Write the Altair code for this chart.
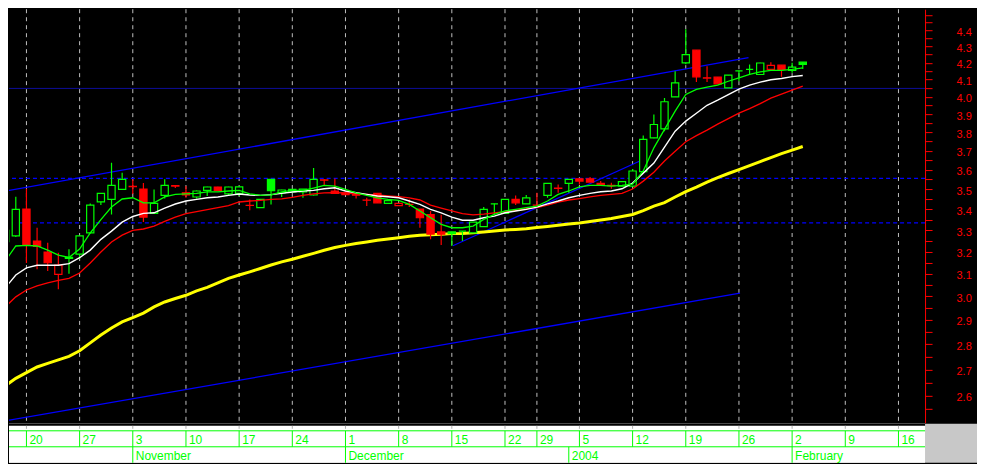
import altair as alt
import pandas as pd

# ---------------- data (trading-day index 0 = Mon 20 Oct 2003) ----------------
days = list(range(-2, 74))

opens = [3.246, 3.273, 3.402, 3.249, 3.198, 3.097, 3.169, 3.188, 3.288, 3.438,
         3.450, 3.500, 3.515, 3.502, 3.381, 3.470, 3.519, 3.483, 3.462, 3.495,
         3.512, 3.478, 3.480, 3.421, 3.409, 3.551, 3.483, 3.487, 3.487, 3.472,
         3.548, 3.492, 3.483, 3.480, 3.447, 3.480, 3.430, 3.419, 3.426, 3.402,
         3.375, 3.292, 3.292, 3.296, 3.288, 3.317, 3.428, 3.381, 3.450, 3.428,
         3.422, 3.470, 3.506, 3.530, 3.554, 3.554, 3.530, 3.520, 3.517, 3.517,
         3.591, 3.770, 3.819, 3.999, 4.200, 4.277, 4.110, 4.114, 4.051, 4.151,
         4.160, 4.130, 4.160, 4.186, 4.154, 4.204]
highs = [3.310, 3.463, 3.503, 3.312, 3.241, 3.195, 3.211, 3.275, 3.430, 3.482,
         3.637, 3.585, 3.552, 3.532, 3.500, 3.551, 3.522, 3.517, 3.495, 3.513,
         3.514, 3.513, 3.515, 3.450, 3.451, 3.552, 3.498, 3.501, 3.502, 3.610,
         3.551, 3.556, 3.484, 3.481, 3.458, 3.481, 3.445, 3.431, 3.450, 3.403,
         3.393, 3.374, 3.293, 3.297, 3.340, 3.412, 3.429, 3.451, 3.470, 3.472,
         3.483, 3.531, 3.525, 3.552, 3.555, 3.563, 3.542, 3.534, 3.539, 3.604,
         3.783, 3.899, 3.993, 4.150, 4.408, 4.278, 4.180, 4.115, 4.126, 4.152,
         4.190, 4.200, 4.204, 4.187, 4.200, 4.205]
lows = [3.190, 3.268, 3.148, 3.120, 3.112, 3.031, 3.100, 3.165, 3.286, 3.422,
        3.376, 3.498, 3.477, 3.339, 3.379, 3.455, 3.507, 3.458, 3.455, 3.467,
        3.492, 3.470, 3.467, 3.396, 3.407, 3.425, 3.462, 3.485, 3.458, 3.470,
        3.517, 3.479, 3.473, 3.455, 3.417, 3.432, 3.429, 3.418, 3.412, 3.312,
        3.257, 3.231, 3.226, 3.249, 3.287, 3.316, 3.376, 3.380, 3.422, 3.427,
        3.409, 3.458, 3.483, 3.483, 3.525, 3.536, 3.517, 3.503, 3.516, 3.515,
        3.590, 3.768, 3.806, 3.998, 4.192, 4.086, 4.086, 4.074, 4.050, 4.090,
        4.130, 4.129, 4.159, 4.116, 4.140, 4.163]
closes = [3.300, 3.401, 3.231, 3.224, 3.149, 3.138, 3.174, 3.273, 3.422, 3.480,
          3.520, 3.551, 3.514, 3.363, 3.430, 3.520, 3.517, 3.472, 3.492, 3.512,
          3.495, 3.512, 3.513, 3.420, 3.450, 3.494, 3.497, 3.500, 3.501, 3.551,
          3.547, 3.480, 3.474, 3.471, 3.446, 3.433, 3.444, 3.430, 3.425, 3.360,
          3.282, 3.281, 3.284, 3.296, 3.339, 3.401, 3.428, 3.450, 3.433, 3.458,
          3.421, 3.530, 3.505, 3.551, 3.542, 3.537, 3.522, 3.519, 3.539, 3.594,
          3.761, 3.843, 3.971, 4.080, 4.250, 4.116, 4.109, 4.075, 4.126, 4.151,
          4.160, 4.199, 4.184, 4.160, 4.174, 4.190]
direction = ["up", "up", "down", "down", "down", "down", "up", "up", "up", "up",
             "up", "up", "down", "down", "up", "up", "down", "down", "up", "up",
             "down", "up", "up", "down", "up", "up", "up", "up", "up", "up",
             "down", "down", "down", "down", "down", "down", "up", "down", "down", "down",
             "down", "down", "up", "up", "up", "up", "up", "up", "down", "up",
             "down", "up", "down", "up", "down", "down", "down", "down", "up", "up",
             "up", "up", "up", "up", "up", "down", "down", "down", "up", "up",
             "up", "up", "down", "down", "up", "up"]

ma_fast = [3.157, 3.226, 3.229, 3.226, 3.207, 3.184, 3.173, 3.212, 3.287, 3.351,
           3.412, 3.452, 3.458, 3.433, 3.433, 3.462, 3.475, 3.478, 3.480, 3.488,
           3.488, 3.492, 3.495, 3.478, 3.470, 3.473, 3.487, 3.495, 3.495, 3.507,
           3.520, 3.517, 3.500, 3.483, 3.470, 3.458, 3.450, 3.445, 3.425, 3.393,
           3.360, 3.328, 3.312, 3.312, 3.320, 3.352, 3.376, 3.393, 3.401, 3.409,
           3.417, 3.442, 3.475, 3.492, 3.513, 3.520, 3.520, 3.517, 3.520, 3.527,
           3.594, 3.716, 3.816, 3.918, 4.013, 4.042, 4.055, 4.067, 4.090, 4.110,
           4.130, 4.145, 4.154, 4.154, 4.160, 4.170]
ma_mid = [3.037, 3.094, 3.126, 3.138, 3.138, 3.138, 3.145, 3.172, 3.207, 3.257,
          3.296, 3.339, 3.366, 3.381, 3.384, 3.407, 3.427, 3.442, 3.450, 3.458,
          3.462, 3.470, 3.477, 3.472, 3.470, 3.474, 3.480, 3.487, 3.492, 3.495,
          3.503, 3.508, 3.492, 3.483, 3.475, 3.467, 3.463, 3.458, 3.442, 3.425,
          3.401, 3.384, 3.363, 3.348, 3.348, 3.360, 3.368, 3.384, 3.393, 3.401,
          3.412, 3.428, 3.442, 3.458, 3.470, 3.480, 3.488, 3.492, 3.503, 3.532,
          3.583, 3.635, 3.720, 3.806, 3.862, 3.906, 3.951, 3.980, 4.012, 4.044,
          4.067, 4.085, 4.099, 4.106, 4.117, 4.124]
ma_slow = [2.955, 2.998, 3.028, 3.046, 3.059, 3.070, 3.079, 3.103, 3.148, 3.198,
           3.245, 3.277, 3.299, 3.306, 3.320, 3.342, 3.363, 3.380, 3.390, 3.400,
           3.409, 3.419, 3.437, 3.442, 3.445, 3.450, 3.453, 3.460, 3.470, 3.478,
           3.483, 3.484, 3.482, 3.478, 3.475, 3.472, 3.468, 3.464, 3.458, 3.447,
           3.422, 3.407, 3.393, 3.380, 3.374, 3.378, 3.384, 3.390, 3.396, 3.404,
           3.409, 3.422, 3.437, 3.447, 3.454, 3.462, 3.470, 3.475, 3.480, 3.502,
           3.542, 3.588, 3.646, 3.698, 3.749, 3.782, 3.812, 3.845, 3.876, 3.906,
           3.932, 3.960, 3.992, 4.015, 4.038, 4.061]
ma_long = [2.637, 2.666, 2.688, 2.710, 2.724, 2.738, 2.752, 2.774, 2.806, 2.838,
           2.867, 2.892, 2.910, 2.929, 2.955, 2.976, 2.991, 3.005, 3.024, 3.039,
           3.059, 3.079, 3.094, 3.108, 3.123, 3.139, 3.153, 3.165, 3.179, 3.192,
           3.206, 3.219, 3.229, 3.238, 3.245, 3.253, 3.259, 3.265, 3.272, 3.276,
           3.279, 3.281, 3.284, 3.285, 3.288, 3.292, 3.296, 3.301, 3.304, 3.307,
           3.313, 3.318, 3.324, 3.330, 3.335, 3.342, 3.349, 3.356, 3.366, 3.376,
           3.395, 3.417, 3.434, 3.462, 3.489, 3.512, 3.537, 3.560, 3.581, 3.601,
           3.622, 3.643, 3.664, 3.685, 3.704, 3.723]

week_idx = [0, 5, 10, 15, 20, 25, 30, 35, 40, 45, 48, 52, 57, 62, 67, 72, 77, 82]
week_lbl = ["20", "27", "3", "10", "17", "24", "1", "8", "15", "22", "29",
            "5", "12", "19", "26", "2", "9", "16"]
month_idx = [10, 30, 51, 72]
month_lbl = ["November", "December", "2004", "February"]

level_solid = [4.048]
level_dashed = [3.556, 3.335]

trend_name = ["upper", "upper", "lower", "lower", "short", "short"]
trend_day = [-2.4, 67.9, -2.4, 67.1, 40.1, 58.0]
trend_price = [3.487, 4.232, 2.505, 3.014, 3.227, 3.654]

y_ticks = [2.55, 2.6, 2.65, 2.7, 2.75, 2.8, 2.85, 2.9, 2.95, 3.0, 3.05, 3.1,
           3.15, 3.2, 3.25, 3.3, 3.35, 3.4, 3.45, 3.5, 3.55, 3.6, 3.65, 3.7,
           3.75, 3.8, 3.85, 3.9, 3.95, 4.0, 4.05, 4.1, 4.15, 4.2, 4.25, 4.3,
           4.35, 4.4, 4.45, 4.5, 4.55]

# ---------------- scales / styles ----------------
XMIN, XMAX = -1.64, 84.5
BXMAX = 89.385
W, H = 917, 414
BW, BH = 969, 39

GREEN = "#00ff00"
RED = "#ff0000"
BLUE = "#0000ff"
FONT = "Liberation Sans"

xs = alt.Scale(domain=[XMIN, XMAX], nice=False, zero=False)
ys = alt.Scale(type="log", domain=[2.5007, 4.537], nice=False)
bxs = alt.Scale(domain=[XMIN, BXMAX], nice=False, zero=False)
cscale = alt.Scale(domain=["up", "down"], range=[GREEN, RED])

yaxis = alt.Axis(
    orient="right", values=y_ticks, title=None, grid=False,
    labelExpr="(abs(datum.value*10 - round(datum.value*10)) < 0.01 && datum.value > 2.56 && datum.value < 4.45) ? format(datum.value, '.1f') : ''",
    tickSize=7, tickColor=RED, tickWidth=1, domainColor=RED, domainWidth=1,
    labelColor=RED, labelFont=FONT, labelFontSize=11, labelPadding=24,
    labelOffset=2, labelAlign="left", labelBaseline="middle", labelOverlap=False,
)

X = lambda f: alt.X(f, scale=xs, axis=None)
Y = lambda f: alt.Y(f, scale=ys, axis=yaxis)

# ---------------- main panel ----------------
candles = pd.DataFrame({"day": days, "open": opens, "high": highs, "low": lows,
                        "close": closes, "dir": direction})

grid = alt.Chart(pd.DataFrame({"day": week_idx})).mark_rule(
    color="#c0c0c0", strokeDash=[4, 4], strokeWidth=1).encode(x=X("day:Q"))

hsolid = alt.Chart(pd.DataFrame({"v": level_solid})).mark_rule(
    color="#1010c0", strokeWidth=0.8).encode(y=Y("v:Q"))
hdash = alt.Chart(pd.DataFrame({"v": level_dashed})).mark_rule(
    color=BLUE, strokeWidth=1.4, strokeDash=[4, 3]).encode(y=Y("v:Q"))

trends = alt.Chart(pd.DataFrame({"name": trend_name, "day": trend_day, "v": trend_price})).mark_line(
    color=BLUE, strokeWidth=1.3, clip=True).encode(x=X("day:Q"), y=Y("v:Q"), detail="name:N")


def ma_layer(vals, color, width):
    df = pd.DataFrame({"day": days, "v": vals})
    return alt.Chart(df).mark_line(color=color, strokeWidth=width, clip=True).encode(
        x=X("day:Q"), y=Y("v:Q"))


yellow = ma_layer(ma_long, "#ffff00", 3)
redma = ma_layer(ma_slow, RED, 1.3)
whitema = ma_layer(ma_mid, "#ffffff", 1.4)
greenma = ma_layer(ma_fast, GREEN, 1.3)

wick = alt.Chart(candles).mark_rule(strokeWidth=1.2, clip=True).encode(
    x=X("day:Q"), y=Y("low:Q"), y2="high:Q",
    color=alt.Color("dir:N", scale=cscale, legend=None))

body = alt.Chart(candles).transform_calculate(
    x0="datum.day - 0.34", x1="datum.day + 0.34"
).mark_rect(strokeWidth=1.2, clip=True).encode(
    x=X("x0:Q"), x2="x1:Q", y=Y("open:Q"), y2="close:Q",
    stroke=alt.Stroke("dir:N", scale=cscale, legend=None),
    fill=alt.condition("datum.close < datum.open",
                       alt.Fill("dir:N", scale=cscale, legend=None),
                       alt.value("#000000")),
)

main = alt.layer(grid, hsolid, hdash, trends, yellow, wick, body, redma, whitema, greenma).properties(
    width=W, height=H, view=alt.ViewBackground(fill="#000000", stroke="transparent"))

# ---------------- bottom date panel ----------------
BX = lambda f: alt.X(f, scale=bxs, axis=None)
span = pd.DataFrame({"a": [XMIN], "b": [XMAX]})
weeks = pd.DataFrame({"day": week_idx, "lbl": week_lbl})
months = pd.DataFrame({"day": month_idx, "lbl": month_lbl})

bg = alt.Chart(span).mark_rect(color="#ffffff").encode(
    x=BX("a:Q"), x2="b:Q", y=alt.value(0), y2=alt.value(BH))
topline = alt.Chart(span).mark_rule(color="#000000", strokeWidth=2).encode(
    x=BX("a:Q"), x2="b:Q", y=alt.value(1))
hl1 = alt.Chart(span).mark_rule(color=GREEN, strokeWidth=1).encode(
    x=BX("a:Q"), x2="b:Q", y=alt.value(7))
hl2 = alt.Chart(span).mark_rule(color=GREEN, strokeWidth=1).encode(
    x=BX("a:Q"), x2="b:Q", y=alt.value(23))
stubs = alt.Chart(weeks).mark_rule(color="#b0b0b0", strokeDash=[3, 2]).encode(
    x=BX("day:Q"), y=alt.value(2), y2=alt.value(7))
wsep = alt.Chart(weeks).mark_rule(color=GREEN, strokeWidth=1).encode(
    x=BX("day:Q"), y=alt.value(7), y2=alt.value(23))
wtxt = alt.Chart(weeks).mark_text(align="left", baseline="alphabetic", dx=3,
                                   font=FONT, fontSize=12, color=GREEN).encode(
    x=BX("day:Q"), y=alt.value(20), text="lbl:N")
msep = alt.Chart(months).mark_rule(color=GREEN, strokeWidth=1).encode(
    x=BX("day:Q"), y=alt.value(23), y2=alt.value(BH))
mtxt = alt.Chart(months).mark_text(align="left", baseline="alphabetic", dx=3,
                                    font=FONT, fontSize=12, color=GREEN).encode(
    x=BX("day:Q"), y=alt.value(36), text="lbl:N")

bottom = alt.layer(bg, topline, hl1, hl2, stubs, wsep, wtxt, msep, mtxt).properties(
    width=BW, height=BH, view=alt.ViewBackground(fill="#c8c8c8", stroke="transparent"))

chart = alt.vconcat(main, bottom, spacing=0).properties(
    background="#000000", padding=0
).configure_view(strokeWidth=0)

chart.save("out.html", embed_options={"renderer": "svg", "actions": False})
